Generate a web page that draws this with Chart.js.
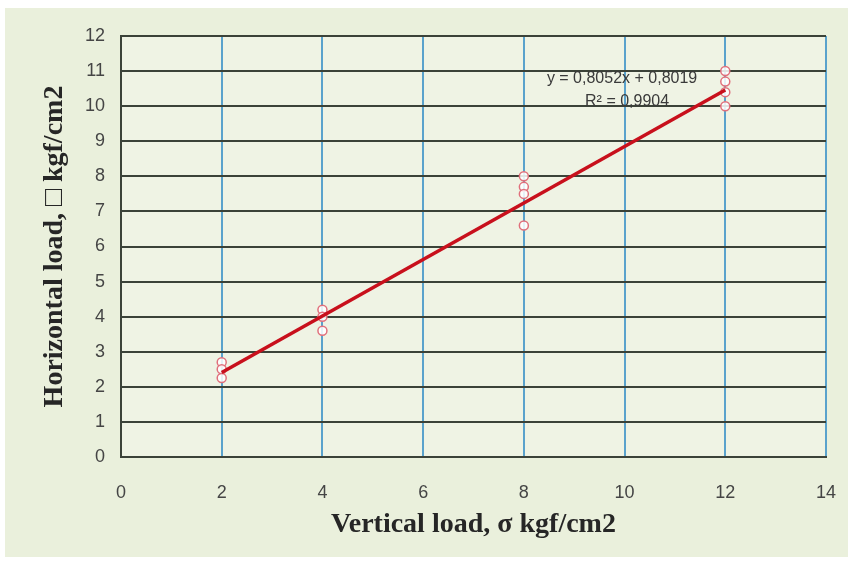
<!DOCTYPE html>
<html>
<head>
<meta charset="utf-8">
<script src="https://cdn.jsdelivr.net/npm/chart.js@4/dist/chart.umd.min.js"></script>
<style>
  html, body { margin: 0; padding: 0; background: #fff; }
  #wrap { width: 853px; height: 564px; }
</style>
</head>
<body>
<div id="wrap"><canvas id="chart" width="853" height="564"></canvas></div>
<script>
const ctx = document.getElementById('chart');

// measured points (x = vertical load, y = horizontal load)
const xValues = [2, 2, 2, 4, 4, 4, 8, 8, 8, 8, 12, 12, 12, 12];
const yValues = [2.7, 2.5, 2.25, 4.2, 4.0, 3.6, 8.0, 7.7, 7.5, 6.6, 11.0, 10.7, 10.4, 10.0];

// linear trendline end points
const trendX = [2, 12];
const trendY = [2.41, 10.46];

const eqText = "y = 0,8052x + 0,8019";
const r2Text = "R\u00b2 = 0,9904";

const pts = xValues.map((x, i) => ({x: x, y: yValues[i]}));
const trend = trendX.map((x, i) => ({x: x, y: trendY[i]}));

const bgPlugin = {
  id: 'bg',
  beforeDraw(chart) {
    const c = chart.ctx;
    c.save();
    c.fillStyle = '#ffffff';
    c.fillRect(0, 0, chart.width, chart.height);
    c.fillStyle = '#eaf0dc';
    c.fillRect(5, 8, 843, 549);
    const a = chart.chartArea;
    c.fillStyle = '#eff3e4';
    c.fillRect(a.left, a.top, a.right - a.left, a.bottom - a.top);
    c.restore();
  }
};

const eqPlugin = {
  id: 'eq',
  afterDraw(chart) {
    const c = chart.ctx;
    const xs = chart.scales.x, ys = chart.scales.y;
    c.save();
    c.fillStyle = '#3a3a3a';
    c.font = '16px "Liberation Sans", Arial, sans-serif';
    c.textAlign = 'center';
    c.textBaseline = 'middle';
    c.fillText(eqText, xs.getPixelForValue(9.95), ys.getPixelForValue(10.8));
    c.fillText(r2Text, xs.getPixelForValue(10.05), ys.getPixelForValue(10.14));
    c.restore();
  }
};

new Chart(ctx, {
  type: 'scatter',
  data: {
    datasets: [{
      type: 'line',
      data: trend,
      borderColor: '#c8101c',
      borderWidth: 3.5,
      pointRadius: 0,
      fill: false
    }, {
      data: pts,
      pointStyle: 'circle',
      pointRadius: 4.5,
      borderColor: '#e0707c',
      backgroundColor: 'rgba(255,255,255,0.85)',
      borderWidth: 1.5
    }]
  },
  options: {
    responsive: false,
    animation: false,
    layout: {padding: {top: 36, right: 27, left: 0, bottom: 0}},
    plugins: {
      legend: {display: false},
      tooltip: {enabled: false}
    },
    scales: {
      x: {
        type: 'linear',
        min: 0, max: 14,
        afterFit: s => { s.height = 107; s.paddingLeft = 0; s.paddingRight = 0; },
        ticks: {
          stepSize: 2,
          padding: 25,
          color: '#454545',
          font: {family: '"Liberation Sans Narrow", "Liberation Sans", sans-serif', size: 18}
        },
        grid: {color: '#5aa2cc', lineWidth: 2, drawTicks: false},
        border: {color: '#3b4238', width: 2},
        title: {
          display: true,
          text: 'Vertical load, \u03c3 kgf/cm2',
          color: '#262626',
          padding: {top: 0, bottom: 22},
          font: {family: '"Liberation Serif", "Times New Roman", serif', size: 28, weight: 'bold'}
        }
      },
      y: {
        min: 0, max: 12,
        afterFit: s => { s.width = 121; s.paddingTop = 0; s.paddingBottom = 0; },
        ticks: {
          stepSize: 1,
          padding: 16,
          color: '#454545',
          font: {family: '"Liberation Sans Narrow", "Liberation Sans", sans-serif', size: 18}
        },
        grid: {color: '#3b4238', lineWidth: 2, drawTicks: false},
        border: {color: '#3b4238', width: 2},
        title: {
          display: true,
          text: 'Horizontal load, \u25a1 kgf/cm2',
          color: '#262626',
          padding: {top: 38, bottom: 0},
          font: {family: '"Liberation Serif", "Times New Roman", serif', size: 28, weight: 'bold'}
        }
      }
    }
  },
  plugins: [bgPlugin, eqPlugin]
});
</script>
</body>
</html>
